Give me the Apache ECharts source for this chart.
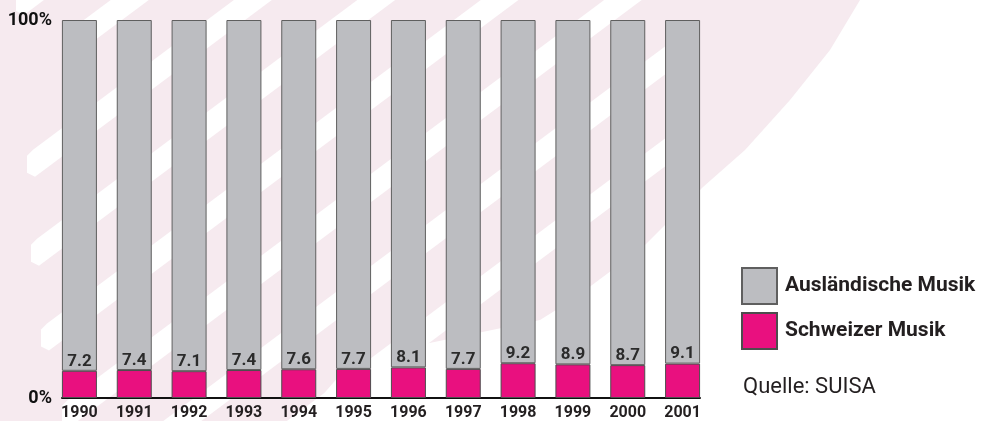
<!DOCTYPE html>
<html>
<head>
<meta charset="utf-8">
<script src="https://cdn.jsdelivr.net/npm/echarts@6/dist/echarts.min.js"></script>
<style>
  html, body { margin: 0; padding: 0; background: #fff; }
  #musicShare { width: 982px; height: 421px; }
</style>
</head>
<body>
<div id="musicShare"></div>
<script>
// Anteil Schweizer Musik am Repertoire (in %), Quelle SUISA
const years = ['1990', '1991', '1992', '1993', '1994', '1995', '1996', '1997', '1998', '1999', '2000', '2001'];
const schweizerMusik = [7.2, 7.4, 7.1, 7.4, 7.6, 7.7, 8.1, 7.7, 9.2, 8.9, 8.7, 9.1];
// rest of 100 %
const auslaendischeMusik = schweizerMusik.map(v => +(100 - v).toFixed(1));
const yTicks = [0, 100];

const FONT = "Roboto, 'Liberation Sans', sans-serif";
const PINK = '#e9107f';
const GREY = '#bcbdc1';
const BG_PINK = '#f6eaef';

// decorative background: pale pink swoosh with white diagonal stripes
function background() {
  const items = [{
    type: 'polygon',
    silent: true,
    z: -10,
    shape: {
      points: [[0, 0], [860, 0], [830, 50], [790, 100], [745, 150], [703, 187],
        [620, 270], [540, 320], [420, 345], [340, 375], [300, 421], [0, 421]]
    },
    style: { fill: BG_PINK }
  }];
  const slope = 0.74, thick = 28, xEnd = 665;
  // [left end x, top edge y measured at x = 28]
  const stripes = [[16, -20], [62, 58], [27, 150], [31, 242], [41, 334], [62, 426],
    [100, 518], [150, 610], [200, 702], [260, 794]];
  stripes.forEach(function (s) {
    const x0 = s[0];
    const y0 = s[1] - slope * (x0 - 28);
    const y1 = y0 - slope * (xEnd - x0);
    items.push({
      type: 'polygon',
      silent: true,
      z: -9,
      shape: { points: [[x0, y0 + 5], [x0 + 6, y0 - 1], [xEnd, y1], [xEnd, y1 + thick], [x0 + 8, y0 + thick - 2], [x0, y0 + thick - 6]] },
      style: { fill: '#ffffff' }
    });
  });
  return items;
}

var chartDom = document.getElementById('musicShare');
var myChart = echarts.init(chartDom, null, { renderer: 'canvas' });

var option = {
  backgroundColor: '#ffffff',
  animation: false,
  textStyle: { fontFamily: FONT },
  graphic: background(),
  title: {
    text: 'Quelle: SUISA',
    left: 743,
    top: 376,
    padding: 0,
    textStyle: { fontFamily: FONT, fontSize: 22, fontWeight: 'normal', color: '#231f20' }
  },
  legend: {
    data: ['Ausländische Musik', 'Schweizer Musik'],
    orient: 'vertical',
    left: 741,
    top: 267,
    padding: 0,
    itemWidth: 35,
    itemHeight: 36,
    itemGap: 7,
    icon: 'rect',
    selectedMode: false,
    textStyle: { fontFamily: FONT, fontSize: 21, fontWeight: 'bold', color: '#231f20', padding: [0, 0, 0, 3] }
  },
  grid: [
    { left: 52, right: 272, top: 20, bottom: 23, outerBoundsMode: 'none' },
    // only carries the baseline, which spans the bars in the original
    { left: 62, right: 282, top: 20, bottom: 23, outerBoundsMode: 'none' }
  ],
  xAxis: [
    {
      type: 'category',
      gridIndex: 0,
      data: years,
      axisLine: { show: false },
      axisTick: { show: false },
      axisLabel: { interval: 0, margin: 7, fontFamily: FONT, fontSize: 16, fontWeight: 'bold', color: '#231f20' }
    },
    {
      type: 'value',
      gridIndex: 1,
      min: 0,
      max: 1,
      axisLine: { show: true, lineStyle: { color: '#111', width: 2 } },
      axisTick: { show: false },
      axisLabel: { show: false },
      splitLine: { show: false }
    }
  ],
  yAxis: [
    {
      type: 'value',
      gridIndex: 0,
      min: yTicks[0],
      max: yTicks[1],
      interval: 100,
      axisLine: { show: false },
      axisTick: { show: false },
      splitLine: { show: false },
      axisLabel: { margin: 0, fontFamily: FONT, fontSize: 18, fontWeight: 'bold', color: '#111', formatter: '{value}%' }
    },
    { type: 'value', gridIndex: 1, show: false, min: 0, max: 1 }
  ],
  series: [
    {
      name: 'Schweizer Musik',
      type: 'bar',
      stack: 'total',
      barWidth: 35,
      data: schweizerMusik,
      itemStyle: { color: PINK, borderColor: '#4d4d4d', borderWidth: 1 },
      label: {
        show: true,
        position: 'top',
        distance: 1,
        fontFamily: FONT,
        fontSize: 17,
        fontWeight: 'bold',
        color: '#2b2b2b',
        formatter: function (p) { return p.value.toFixed(1); }
      }
    },
    {
      name: 'Ausländische Musik',
      type: 'bar',
      stack: 'total',
      barWidth: 35,
      data: auslaendischeMusik,
      itemStyle: { color: GREY, borderColor: '#5f5f5f', borderWidth: 1 }
    }
  ]
};

myChart.setOption(option);
</script>
</body>
</html>
